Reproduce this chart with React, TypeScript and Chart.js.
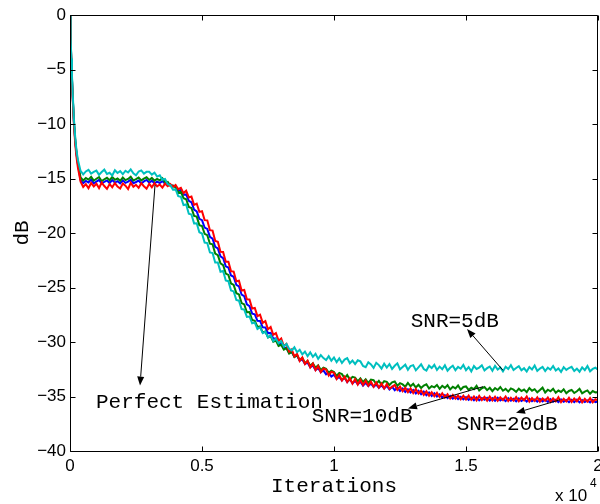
import React, { useEffect, useRef } from 'react';
import { Chart, registerables } from 'chart.js';

Chart.register(...registerables);

// Iteration index (x values)
const iterations = [
  0, 25, 50, 75, 100, 150, 200, 250, 300,
  400, 500, 600, 700, 800, 900,
  1000, 1100, 1200, 1300, 1400, 1500, 1600, 1700, 1800, 1900,
  2000, 2100, 2200, 2300, 2400, 2500, 2600, 2700, 2800, 2900,
  3000, 3100, 3200, 3300, 3400, 3500, 3600, 3700, 3800, 3900,
  4000, 4100, 4200, 4300, 4400, 4500, 4600, 4700, 4800, 4900,
  5000, 5100, 5200, 5300, 5400, 5500, 5600, 5700, 5800, 5900,
  6000, 6100, 6200, 6300, 6400, 6500, 6600, 6700, 6800, 6900,
  7000, 7100, 7200, 7300, 7400, 7500, 7600, 7700, 7800, 7900,
  8000, 8100, 8200, 8300, 8400, 8500, 8600, 8700, 8800, 8900,
  9000, 9100, 9200, 9300, 9400, 9500, 9600, 9700, 9800, 9900,
  10000, 10100, 10200, 10300, 10400, 10500, 10600, 10700, 10800, 10900,
  11000, 11100, 11200, 11300, 11400, 11500, 11600, 11700, 11800, 11900,
  12000, 12100, 12200, 12300, 12400, 12500, 12600, 12700, 12800, 12900,
  13000, 13100, 13200, 13300, 13400, 13500, 13600, 13700, 13800, 13900,
  14000, 14100, 14200, 14300, 14400, 14500, 14600, 14700, 14800, 14900,
  15000, 15100, 15200, 15300, 15400, 15500, 15600, 15700, 15800, 15900,
  16000, 16100, 16200, 16300, 16400, 16500, 16600, 16700, 16800, 16900,
  17000, 17100, 17200, 17300, 17400, 17500, 17600, 17700, 17800, 17900,
  18000, 18100, 18200, 18300, 18400, 18500, 18600, 18700, 18800, 18900,
  19000, 19100, 19200, 19300, 19400, 19500, 19600, 19700, 19800, 19900,
  20000,
];

// SNR = 5 dB (cyan)
const snr5 = [
  0, -2.1, -4.0, -5.6, -7.1, -9.6, -11.3, -12.5, -13.3,
  -14.3, -14.62, -14.35, -14.2, -14.55, -14.4,
  -14.28, -14.66, -14.41, -14.19, -14.58, -14.47, -14.73, -14.24, -14.5, -14.33,
  -14.61, -14.29, -14.45, -14.17, -14.52, -14.7, -14.36, -14.26, -14.55, -14.39,
  -14.38, -14.64, -14.47, -14.82, -14.71, -15.12, -15.05, -15.52, -15.61, -16.02,
  -16.0, -16.62, -16.68, -17.43, -17.38, -18.24, -18.31, -19.12, -19.1, -19.93,
  -20.05, -20.88, -20.92, -21.79, -21.84, -22.71, -22.7, -23.55, -23.48, -24.35,
  -24.42, -25.27, -25.36, -26.15, -26.21, -26.98, -27.03, -27.7, -27.66, -28.28,
  -28.22, -28.81, -28.64, -29.18, -29.05, -29.58, -29.37, -29.91, -29.7, -30.12,
  -29.92, -30.41, -30.18, -30.62, -30.77, -30.49, -30.93, -30.71, -31.14, -30.88,
  -31.3, -30.95, -31.36, -31.08, -31.55, -31.21, -31.48, -31.66, -31.3, -31.72,
  -31.42, -31.85, -31.5, -31.93, -31.61, -31.47, -31.95, -31.7, -32.02, -31.68,
  -31.78, -32.2, -32.31, -31.86, -32.05, -32.38, -31.91, -32.12, -32.44, -31.99,
  -32.35, -32.02, -32.47, -32.18, -31.96, -32.5, -32.29, -32.08, -32.55, -32.2,
  -32.12, -32.6, -32.33, -32.05, -32.48, -32.62, -32.17, -32.39, -32.09, -32.57,
  -32.26, -32.5, -32.13, -32.64, -32.36, -32.18, -32.59, -32.28, -32.45, -32.11,
  -32.58, -32.3, -32.69, -32.2, -32.47, -32.35, -32.14, -32.61, -32.4, -32.25,
  -32.63, -32.19, -32.52, -32.33, -32.7, -32.27, -32.48, -32.13, -32.57, -32.38,
  -32.22, -32.6, -32.41, -32.71, -32.3, -32.52, -32.16, -32.65, -32.44, -32.29,
  -32.67, -32.35, -32.54, -32.2, -32.62, -32.43, -32.74, -32.31, -32.56, -32.39,
  -32.28, -32.66, -32.45, -32.73, -32.33, -32.58, -32.21, -32.69, -32.47, -32.36,
  -32.55,
];

// SNR = 10 dB (green)
const snr10 = [
  0, -2.2, -4.1, -5.8, -7.3, -9.8, -11.5, -12.7, -13.6,
  -14.9, -15.18, -14.96, -15.1, -14.85, -15.2,
  -15.02, -14.88, -15.23, -15.07, -14.93, -15.16, -14.87, -15.12, -15.0, -15.21,
  -14.9, -15.15, -15.04, -14.84, -15.19, -15.06, -14.92, -15.17, -15.01, -14.89,
  -15.14, -14.95, -15.2, -15.03, -15.17, -14.98, -15.36, -15.3, -15.68, -15.64,
  -15.82, -16.3, -16.22, -16.81, -16.9, -17.62, -17.7, -18.43, -18.5, -19.28,
  -19.36, -20.08, -20.2, -20.98, -21.04, -21.88, -22.03, -22.79, -22.94, -23.72,
  -23.84, -24.63, -24.76, -25.52, -25.64, -26.43, -26.55, -27.27, -27.25, -27.98,
  -28.05, -28.62, -28.56, -29.13, -29.04, -29.58, -29.45, -29.97, -29.86, -30.37,
  -30.26, -30.71, -30.57, -31.06, -30.9, -31.37, -31.2, -31.66, -31.45, -31.92,
  -31.74, -32.17, -31.95, -32.36, -32.14, -32.56, -32.35, -32.45, -32.83, -32.64,
  -32.76, -33.12, -32.84, -32.95, -33.31, -33.03, -33.47, -33.2, -33.26, -33.61,
  -33.34, -33.67, -33.42, -33.76, -33.45, -33.5, -33.85, -33.56, -33.9, -33.6,
  -33.66, -33.95, -33.7, -33.62, -34.01, -33.78, -33.89, -34.1, -33.76, -34.06,
  -33.84, -34.18, -33.93, -34.22, -34.0, -33.88, -34.27, -34.05, -34.16, -33.95,
  -34.3, -34.02, -34.21, -33.96, -34.35, -34.1, -34.26, -33.99, -34.38, -34.13,
  -34.08, -34.4, -34.19, -34.33, -34.02, -34.45, -34.24, -34.13, -34.42, -34.2,
  -34.51, -34.22, -34.4, -34.13, -34.47, -34.3, -34.55, -34.26, -34.37, -34.58,
  -34.28, -34.5, -34.36, -34.6, -34.22, -34.47, -34.33, -34.62, -34.41, -34.19,
  -34.63, -34.38, -34.52, -34.29, -34.66, -34.45, -34.58, -34.34, -34.7, -34.49,
  -34.4, -34.68, -34.52, -34.3, -34.71, -34.56, -34.44, -34.75, -34.5, -34.62,
  -34.6,
];

// SNR = 20 dB (red)
const snr20 = [
  0, -2.4, -4.3, -6.0, -7.6, -10.1, -11.9, -13.1, -14.0,
  -15.3, -15.78, -15.52, -15.9, -15.41, -15.73,
  -15.48, -15.88, -15.37, -15.69, -15.95, -15.5, -15.81, -15.42, -15.74, -15.92,
  -15.46, -15.66, -15.97, -15.39, -15.77, -15.58, -15.86, -15.44, -15.71, -15.93,
  -15.49, -15.8, -15.43, -15.72, -15.55, -15.84, -15.47, -15.7, -15.52, -15.78,
  -15.6, -15.98, -15.86, -16.34, -16.12, -16.74, -16.66, -17.42, -17.3, -18.06,
  -18.0, -18.82, -18.84, -19.74, -19.78, -20.72, -20.8, -21.73, -21.74, -22.63,
  -22.64, -23.52, -23.54, -24.43, -24.38, -25.28, -25.23, -26.08, -26.09, -26.93,
  -26.88, -27.63, -27.49, -28.24, -28.08, -28.83, -28.63, -29.34, -29.18, -29.88,
  -29.68, -30.38, -30.18, -30.88, -30.68, -31.33, -31.08, -31.74, -31.43, -32.03,
  -31.72, -32.33, -31.98, -32.58, -32.22, -32.78, -32.43, -32.52, -33.08, -32.73,
  -32.82, -33.38, -33.03, -33.53, -33.18, -33.68, -33.33, -33.82, -33.4, -33.9,
  -33.48, -33.95, -33.55, -34.02, -33.65, -34.1, -33.72, -34.18, -33.8, -34.26,
  -33.85, -34.3, -34.12, -33.95, -34.4, -34.08, -34.52, -34.2, -34.6, -34.25,
  -34.68, -34.3, -34.72, -34.45, -34.85, -34.52, -34.92, -34.6, -34.98, -34.66,
  -35.05, -34.7, -35.1, -34.8, -35.18, -34.85, -35.2, -34.9, -35.25, -34.92,
  -35.28, -34.92, -35.3, -35.0, -35.35, -34.95, -35.32, -35.04, -35.38, -35.0,
  -35.36, -35.02, -35.4, -35.08, -35.33, -35.0, -35.42, -35.12, -35.38, -35.05,
  -35.44, -35.1, -35.35, -35.0, -35.47, -35.15, -35.41, -35.08, -35.48, -35.18,
  -35.4, -35.1, -35.5, -35.16, -35.44, -35.06, -35.52, -35.2, -35.46, -35.12,
  -35.5, -35.18, -35.45, -35.1, -35.55, -35.22, -35.48, -35.15, -35.53, -35.25,
  -35.35,
];

// Perfect estimation (blue)
const perfect = [
  0, -2.3, -4.2, -5.9, -7.4, -9.9, -11.6, -12.8, -13.7,
  -15.15, -15.42, -15.22, -15.36, -15.1, -15.45,
  -15.28, -15.12, -15.47, -15.3, -15.18, -15.41, -15.14, -15.38, -15.25, -15.44,
  -15.16, -15.4, -15.29, -15.11, -15.43, -15.32, -15.19, -15.46, -15.27, -15.13,
  -15.39, -15.2, -15.44, -15.28, -15.41, -15.24, -15.47, -15.38, -15.62, -15.66,
  -15.74, -16.13, -16.06, -16.49, -16.46, -17.05, -17.18, -17.86, -18.02, -18.7,
  -18.82, -19.5, -19.62, -20.36, -20.52, -21.26, -21.41, -22.15, -22.3, -23.06,
  -23.17, -23.9, -24.02, -24.76, -24.91, -25.66, -25.8, -26.55, -26.72, -27.4,
  -27.46, -28.06, -28.07, -28.65, -28.66, -29.2, -29.17, -29.7, -29.67, -30.2,
  -30.12, -30.6, -30.52, -31.0, -30.92, -31.35, -31.25, -31.72, -31.6, -32.02,
  -31.9, -32.32, -32.15, -32.57, -32.4, -32.77, -32.6, -32.97, -32.8, -33.17,
  -33.0, -33.37, -33.2, -33.52, -33.25, -33.67, -33.4, -33.8, -33.55, -33.88,
  -33.64, -34.0, -33.75, -34.05, -33.82, -34.12, -33.9, -34.2, -33.97, -34.26,
  -34.02, -34.35, -34.1, -34.42, -34.18, -34.5, -34.27, -34.58, -34.33, -34.64,
  -34.4, -34.72, -34.48, -34.8, -34.55, -34.88, -34.63, -34.95, -34.7, -35.0,
  -34.8, -35.1, -34.88, -35.15, -34.95, -35.2, -35.0, -35.24, -35.03, -35.27,
  -35.05, -35.3, -35.1, -35.34, -35.08, -35.36, -35.14, -35.31, -35.12, -35.38,
  -35.16, -35.4, -35.12, -35.37, -35.2, -35.42, -35.15, -35.39, -35.22, -35.44,
  -35.18, -35.41, -35.24, -35.46, -35.2, -35.43, -35.27, -35.48, -35.23, -35.45,
  -35.28, -35.5, -35.25, -35.47, -35.3, -35.52, -35.27, -35.49, -35.33, -35.53,
  -35.3, -35.51, -35.28, -35.54, -35.33, -35.5, -35.36, -35.55, -35.31, -35.52,
  -35.45,
];

const xTickValues = [0, 5000, 10000, 15000, 20000];
const yTickValues = [0, -5, -10, -15, -20, -25, -30, -35, -40];

const labelTexts = ['Perfect Estimation', 'SNR=10dB', 'SNR=20dB', 'SNR=5dB'];
const labelX = [985, 9155, 14648, 12905];
const labelY = [-36.06, -37.34, -38.07, -28.62];

const arrowFromX = [3220, 15644, 18561, 16402];
const arrowFromY = [-15.6, -34.1, -35.3, -32.6];
const arrowToX = [2652, 12803, 16894, 15038];
const arrowToY = [-34.0, -36.1, -36.5, -28.8];

const MONO = "'Liberation Mono', 'Courier New', monospace";
const SANS = "'Liberation Sans', Arial, Helvetica, sans-serif";

const framePlugin = {
  id: 'matlabFrame',
  afterDraw(chart: any) {
    const { ctx, chartArea: a, scales } = chart;
    const xs = scales.x;
    const ys = scales.y;
    ctx.save();
    ctx.strokeStyle = '#000';
    ctx.fillStyle = '#000';
    ctx.lineWidth = 1;
    const L = Math.round(a.left) + 0.5;
    const R = Math.round(a.right) - 0.5;
    const T = Math.round(a.top) + 0.5;
    const B = Math.round(a.bottom) + 0.5;
    ctx.beginPath();
    ctx.rect(L, T, R - L, B - T);
    ctx.stroke();
    const tl = 5;
    ctx.beginPath();
    xTickValues.forEach((v) => {
      const px = Math.round(xs.getPixelForValue(v)) + 0.5;
      ctx.moveTo(px, B);
      ctx.lineTo(px, B - tl);
      ctx.moveTo(px, T);
      ctx.lineTo(px, T + tl);
    });
    yTickValues.forEach((v) => {
      const py = Math.round(ys.getPixelForValue(v)) + 0.5;
      ctx.moveTo(L, py);
      ctx.lineTo(L + tl, py);
      ctx.moveTo(R, py);
      ctx.lineTo(R - tl, py);
    });
    ctx.stroke();

    // arrows
    for (let i = 0; i < arrowFromX.length; i++) {
      const x1 = xs.getPixelForValue(arrowFromX[i]);
      const y1 = ys.getPixelForValue(arrowFromY[i]);
      const x2 = xs.getPixelForValue(arrowToX[i]);
      const y2 = ys.getPixelForValue(arrowToY[i]);
      const ang = Math.atan2(y2 - y1, x2 - x1);
      const hl = 9;
      const hw = 3.5;
      const bx = x2 - hl * Math.cos(ang);
      const by = y2 - hl * Math.sin(ang);
      ctx.beginPath();
      ctx.moveTo(x1, y1);
      ctx.lineTo(bx, by);
      ctx.stroke();
      ctx.beginPath();
      ctx.moveTo(x2, y2);
      ctx.lineTo(bx + hw * Math.sin(ang), by - hw * Math.cos(ang));
      ctx.lineTo(bx - hw * Math.sin(ang), by + hw * Math.cos(ang));
      ctx.closePath();
      ctx.fill();
    }

    // annotation text
    ctx.font = `21px ${MONO}`;
    ctx.textAlign = 'left';
    ctx.textBaseline = 'alphabetic';
    for (let i = 0; i < labelTexts.length; i++) {
      ctx.fillText(labelTexts[i], xs.getPixelForValue(labelX[i]), ys.getPixelForValue(labelY[i]));
    }

    // axis titles
    ctx.textAlign = 'center';
    ctx.fillText('Iterations', (a.left + a.right) / 2, 492);
    ctx.save();
    ctx.translate(28, (a.top + a.bottom) / 2);
    ctx.rotate(-Math.PI / 2);
    ctx.fillText('dB', 0, 0);
    ctx.restore();

    // exponent
    ctx.textAlign = 'left';
    ctx.font = `17px ${SANS}`;
    ctx.fillText('x 10', 555, 501);
    ctx.font = `12px ${SANS}`;
    ctx.fillText('4', 590, 487);
    ctx.restore();
  },
};

export default function App() {
  const ref = useRef<HTMLCanvasElement | null>(null);

  useEffect(() => {
    const canvas = ref.current;
    if (!canvas) return;
    const mk = (vals: number[], color: string) => ({
      data: iterations.map((x, i) => ({ x, y: vals[i] })),
      borderColor: color,
      backgroundColor: color,
      borderWidth: 2,
      pointRadius: 0,
      tension: 0,
      fill: false,
    });
    const chart = new Chart(canvas, {
      type: 'line',
      data: {
        datasets: [
          mk(snr5, '#00BFBF'),
          mk(snr20, '#FF0000'),
          mk(snr10, '#008000'),
          mk(perfect, '#0000FF'),
        ],
      },
      options: {
        responsive: false,
        devicePixelRatio: 1,
        animation: false,
        events: [],
        layout: { padding: { top: 15, right: 2, left: 0, bottom: 0 } },
        plugins: { legend: { display: false }, tooltip: { enabled: false }, title: { display: false } },
        scales: {
          x: {
            type: 'linear',
            min: 0,
            max: 20000,
            afterBuildTicks: (s: any) => {
              s.ticks = xTickValues.map((v) => ({ value: v }));
            },
            ticks: {
              callback: (v: any) => String(Number(v) / 10000),
              font: { family: SANS, size: 17 },
              color: '#000',
              padding: 5,
              maxRotation: 0,
              autoSkip: false,
            },
            grid: { display: false, drawTicks: false },
            border: { display: false },
            afterFit: (s: any) => {
              s.height = 53;
              s.paddingLeft = 0;
              s.paddingRight = 0;
            },
          },
          y: {
            type: 'linear',
            min: -40,
            max: 0,
            afterBuildTicks: (s: any) => {
              s.ticks = yTickValues.map((v) => ({ value: v }));
            },
            ticks: {
              callback: (v: any) => (Number(v) < 0 ? '\u2212' + Math.abs(Number(v)) : '0'),
              font: { family: SANS, size: 17 },
              color: '#000',
              padding: 4,
              autoSkip: false,
            },
            grid: { display: false, drawTicks: false },
            border: { display: false },
            afterFit: (s: any) => {
              s.width = 70;
              s.paddingTop = 0;
              s.paddingBottom = 0;
            },
          },
        },
      } as any,
      plugins: [framePlugin],
    });
    return () => chart.destroy();
  }, []);

  return (
    <div style={{ position: 'fixed', left: 0, top: 0, width: 600, height: 504, background: '#fff' }}>
      <canvas ref={ref} width={600} height={504} style={{ display: 'block' }} />
    </div>
  );
}
